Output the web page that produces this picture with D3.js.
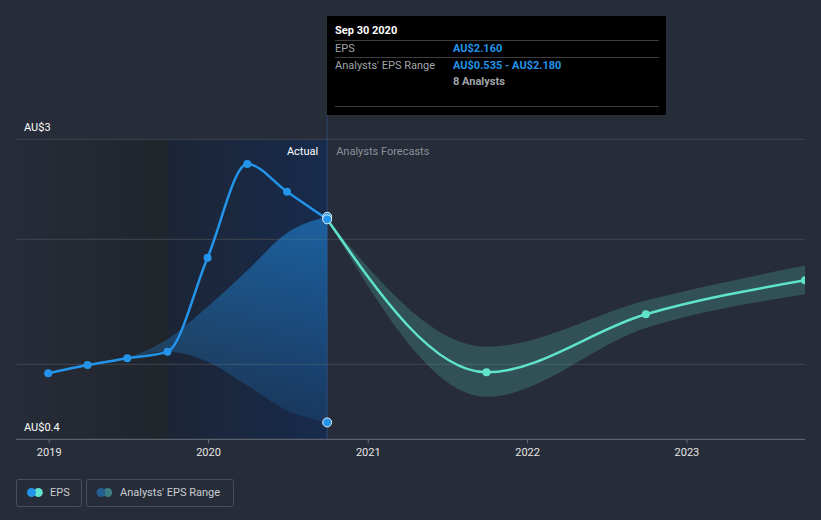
<!DOCTYPE html>
<html>
<head>
<meta charset="utf-8">
<script src="https://cdn.jsdelivr.net/npm/d3@7"></script>
<style>
  html, body { margin: 0; padding: 0; background: #262c38; }
  svg { display: block; font-family: Roboto, "Open Sans", sans-serif; }
</style>
</head>
<body>
<svg id="chart" width="821" height="520"></svg>
<script>
// EPS history (trailing, quarterly) and analyst forecasts, AU$
var epsDates   = ["2018-12-31", "2019-03-31", "2019-06-30", "2019-09-30", "2019-12-31", "2020-03-31", "2020-06-30", "2020-09-30"];
var epsValues  = [0.928, 0.994, 1.048, 1.101, 1.853, 2.602, 2.381, 2.16];

var pastRangeDates = ["2019-06-30", "2019-09-30", "2019-12-31", "2020-03-31", "2020-06-30", "2020-09-30"];
var pastRangeLow   = [1.048, 1.10, 1.02, 0.83, 0.63, 0.535];
var pastRangeHigh  = [1.048, 1.20, 1.46, 1.75, 2.05, 2.18];

var forecastDates  = ["2020-09-30", "2021-09-30", "2022-09-30", "2023-09-30"];
var forecastValues = [2.16, 0.936, 1.40, 1.672];
var forecastLow    = [2.16, 0.74, 1.29, 1.56];
var forecastHigh   = [2.16, 1.14, 1.51, 1.79];

var yearTicks  = ["2019", "2020", "2021", "2022", "2023"];
var gridValues = [1, 2, 2.8];
var yLabels    = [{v: 2.8, t: "AU$3"}, {v: 0.4, t: "AU$0.4"}];

var parse = d3.utcParse("%Y-%m-%d");

var svg = d3.select("#chart");
var left = 16, right = 805;

var x = d3.scaleUtc()
    .domain([parse("2019-01-01"), parse("2023-01-01")])
    .range([48.7, 686.4]);
var y = d3.scaleLinear()
    .domain([0.4, 2.8])
    .range([439.3, 139.3]);

var nowDate = parse("2020-09-30");
var pastStart = parse("2019-09-30");

var defs = svg.append("defs");
defs.append("clipPath").attr("id", "plotClip")
  .append("rect").attr("x", left).attr("y", 0).attr("width", right - left).attr("height", 440);

var g1 = defs.append("linearGradient").attr("id", "oldBg").attr("x1", 0).attr("x2", 1).attr("y1", 0).attr("y2", 0);
g1.append("stop").attr("offset", 0).attr("stop-color", "#262c38");
g1.append("stop").attr("offset", 1).attr("stop-color", "#20242b");

var g2 = defs.append("linearGradient").attr("id", "pastBg").attr("x1", 0).attr("x2", 1).attr("y1", 0).attr("y2", 0);
g2.append("stop").attr("offset", 0).attr("stop-color", "#1c2536");
g2.append("stop").attr("offset", 1).attr("stop-color", "#172b4c");

var g3 = defs.append("linearGradient").attr("id", "bandFill")
    .attr("gradientUnits", "userSpaceOnUse")
    .attr("x1", 0).attr("x2", 0).attr("y1", y(2.18)).attr("y2", y(0.535));
g3.append("stop").attr("offset", 0).attr("stop-color", "#2196f3").attr("stop-opacity", 0.5);
g3.append("stop").attr("offset", 1).attr("stop-color", "#2196f3").attr("stop-opacity", 0.12);

// background regions
svg.append("rect")
    .attr("x", left).attr("y", y(2.8))
    .attr("width", x(pastStart) - left).attr("height", y(0.4) - y(2.8))
    .attr("fill", "url(#oldBg)");
svg.append("rect")
    .attr("x", x(pastStart)).attr("y", y(2.8))
    .attr("width", x(nowDate) - x(pastStart)).attr("height", y(0.4) - y(2.8))
    .attr("fill", "url(#pastBg)");

// gridlines
svg.selectAll(".grid").data(gridValues).enter().append("line")
    .attr("class", "grid")
    .attr("x1", left).attr("x2", right)
    .attr("y1", function(d) { return y(d); }).attr("y2", function(d) { return y(d); })
    .attr("stroke", "#40464f").attr("stroke-width", 1);

// y labels
svg.selectAll(".ylab").data(yLabels).enter().append("text")
    .attr("class", "ylab")
    .attr("x", 24).attr("y", function(d) { return y(d.v) - 12; })
    .attr("dy", "0.35em")
    .attr("fill", "#ffffff").attr("font-size", 11)
    .text(function(d) { return d.t; });

// now line
svg.append("line")
    .attr("x1", x(nowDate)).attr("x2", x(nowDate))
    .attr("y1", 115).attr("y2", y(0.4))
    .attr("stroke", "#2d4670").attr("stroke-width", 1);

svg.append("text").attr("x", x(nowDate) - 9).attr("y", 151).attr("dy", "0.35em")
    .attr("text-anchor", "end").attr("fill", "#ffffff").attr("font-size", 11).text("Actual");
svg.append("text").attr("x", x(nowDate) + 9).attr("y", 151).attr("dy", "0.35em")
    .attr("fill", "#8b9099").attr("font-size", 11).text("Analysts Forecasts");

var plot = svg.append("g").attr("clip-path", "url(#plotClip)");

// past analyst range band
var pastBand = pastRangeDates.map(function(d, i) {
    return {date: parse(d), lo: pastRangeLow[i], hi: pastRangeHigh[i]};
});
plot.append("path").datum(pastBand)
    .attr("fill", "url(#bandFill)")
    .attr("d", d3.area().curve(d3.curveMonotoneX)
        .x(function(d) { return x(d.date); })
        .y0(function(d) { return y(d.lo); })
        .y1(function(d) { return y(d.hi); }));

// forecast band
var fBand = forecastDates.map(function(d, i) {
    return {date: parse(d), v: forecastValues[i], lo: forecastLow[i], hi: forecastHigh[i]};
});
plot.append("path").datum(fBand)
    .attr("fill", "#64e6d2").attr("fill-opacity", 0.2)
    .attr("d", d3.area().curve(d3.curveMonotoneX)
        .x(function(d) { return x(d.date); })
        .y0(function(d) { return y(d.lo); })
        .y1(function(d) { return y(d.hi); }));

// forecast line
plot.append("path").datum(fBand)
    .attr("fill", "none").attr("stroke", "#5fe3cc").attr("stroke-width", 2.5)
    .attr("d", d3.line().curve(d3.curveMonotoneX)
        .x(function(d) { return x(d.date); })
        .y(function(d) { return y(d.v); }));
plot.selectAll(".fpt").data(fBand.slice(1)).enter().append("circle")
    .attr("class", "fpt")
    .attr("cx", function(d) { return x(d.date); }).attr("cy", function(d) { return y(d.v); })
    .attr("r", 4).attr("fill", "#5fe3cc");

// eps line
var eps = epsDates.map(function(d, i) { return {date: parse(d), v: epsValues[i]}; });
plot.append("path").datum(eps)
    .attr("fill", "none").attr("stroke", "#2394e9").attr("stroke-width", 2.5)
    .attr("d", d3.line().curve(d3.curveMonotoneX)
        .x(function(d) { return x(d.date); })
        .y(function(d) { return y(d.v); }));
plot.selectAll(".ept").data(eps.slice(0, -1)).enter().append("circle")
    .attr("class", "ept")
    .attr("cx", function(d) { return x(d.date); }).attr("cy", function(d) { return y(d.v); })
    .attr("r", 4).attr("fill", "#2394e9");

// hovered markers at Sep 30 2020
var last = pastBand[pastBand.length - 1];
[last.hi, eps[eps.length - 1].v, last.lo].forEach(function(v) {
    plot.append("circle")
        .attr("cx", x(nowDate)).attr("cy", y(v)).attr("r", 4.5)
        .attr("fill", "#2394e9").attr("stroke", "#e8eef6").attr("stroke-width", 1);
});

// x axis
svg.append("line")
    .attr("x1", left).attr("x2", right)
    .attr("y1", y(0.4)).attr("y2", y(0.4))
    .attr("stroke", "#6a707a").attr("stroke-width", 1);
var xAxis = svg.append("g")
    .attr("transform", "translate(0," + y(0.4) + ")")
    .call(d3.axisBottom(x)
        .tickValues(yearTicks.map(function(t) { return parse(t + "-01-01"); }))
        .tickFormat(d3.utcFormat("%Y"))
        .tickSize(4).tickPadding(5));
xAxis.select(".domain").remove();
xAxis.selectAll(".tick line").attr("stroke", "#6a707a");
xAxis.selectAll(".tick text").attr("fill", "#e6e6e6").attr("font-size", 11)
    .attr("font-family", "Roboto, sans-serif");

// legend
var legend = svg.append("g");
legend.append("rect").attr("x", 16.5).attr("y", 479.5).attr("width", 65).attr("height", 27)
    .attr("rx", 2).attr("fill", "none").attr("stroke", "#4a505b");
legend.append("rect").attr("x", 86.5).attr("y", 479.5).attr("width", 147).attr("height", 27)
    .attr("rx", 2).attr("fill", "none").attr("stroke", "#4a505b");
legend.append("circle").attr("cx", 38.3).attr("cy", 492.5).attr("r", 4.5).attr("fill", "#5fe3cc");
legend.append("circle").attr("cx", 31.5).attr("cy", 492.5).attr("r", 4.5).attr("fill", "#2394e9");
legend.append("circle").attr("cx", 107.7).attr("cy", 492.5).attr("r", 4.5).attr("fill", "#3d7c83");
legend.append("circle").attr("cx", 101).attr("cy", 492.5).attr("r", 4.5).attr("fill", "#24608f");
legend.append("text").attr("x", 50).attr("y", 492.5).attr("dy", "0.35em")
    .attr("fill", "#c9ccd1").attr("font-size", 11).text("EPS");
legend.append("text").attr("x", 120).attr("y", 492.5).attr("dy", "0.35em")
    .attr("fill", "#c9ccd1").attr("font-size", 11).text("Analysts' EPS Range");

// tooltip
var tip = svg.append("g");
tip.append("rect").attr("x", 327).attr("y", 16).attr("width", 339).attr("height", 99).attr("fill", "#000000");
[40.5, 57.5, 106.5].forEach(function(ly) {
    tip.append("line").attr("x1", 335).attr("x2", 659).attr("y1", ly).attr("y2", ly)
        .attr("stroke", "#3e3e3e").attr("stroke-width", 1);
});
tip.append("text").attr("x", 335).attr("y", 30).attr("dy", "0.35em")
    .attr("fill", "#ffffff").attr("font-size", 11).attr("font-weight", "bold").text("Sep 30 2020");
tip.append("text").attr("x", 335).attr("y", 48.5).attr("dy", "0.35em")
    .attr("fill", "#a0a4aa").attr("font-size", 11).text("EPS");
tip.append("text").attr("x", 453).attr("y", 48.5).attr("dy", "0.35em")
    .attr("fill", "#2394e9").attr("font-size", 11).attr("font-weight", "bold")
    .text("AU$" + d3.format(".3f")(epsValues[epsValues.length - 1]));
tip.append("text").attr("x", 335).attr("y", 65).attr("dy", "0.35em")
    .attr("fill", "#a0a4aa").attr("font-size", 11).text("Analysts' EPS Range");
tip.append("text").attr("x", 453).attr("y", 65).attr("dy", "0.35em")
    .attr("fill", "#2394e9").attr("font-size", 11).attr("font-weight", "bold")
    .text("AU$" + d3.format(".3f")(last.lo) + " - AU$" + d3.format(".3f")(last.hi));
tip.append("text").attr("x", 453).attr("y", 81).attr("dy", "0.35em")
    .attr("fill", "#a0a4aa").attr("font-size", 11).attr("font-weight", "bold").text("8 Analysts");
</script>
</body>
</html>
